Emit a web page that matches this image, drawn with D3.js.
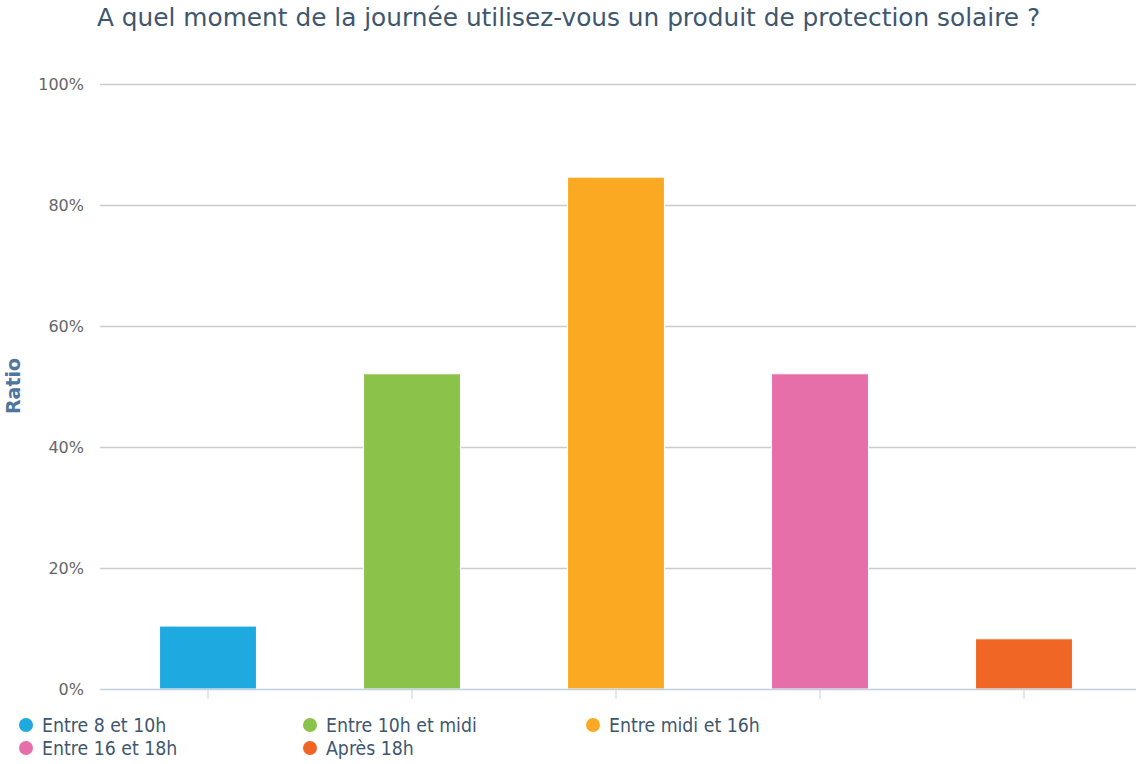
<!DOCTYPE html>
<html>
<head>
<meta charset="utf-8">
<script src="https://cdn.jsdelivr.net/npm/d3@7"></script>
<style>
  html, body { margin: 0; padding: 0; background: #fff; }
  svg { display: block; font-family: "DejaVu Sans", sans-serif; }
</style>
</head>
<body>
<svg id="chart" width="1137" height="764"></svg>
<script>
// Survey answers: share of respondents per time slot
const categories = ["Entre 8 et 10h", "Entre 10h et midi", "Entre midi et 16h", "Entre 16 et 18h", "Après 18h"];
const values = [10.4, 52.1, 84.6, 52.1, 8.3];
const colors = ["#1fa9e1", "#8bc34a", "#fba922", "#e66ea9", "#f06624"];
const yTicks = [0, 20, 40, 60, 80, 100];
const titleText = "A quel moment de la journée utilisez-vous un produit de protection solaire ?";
const yTitle = "Ratio";

const svg = d3.select("#chart");
const plot = { left: 100, right: 1136, top: 84, bottom: 689 };

const x = d3.scaleBand()
  .domain(categories)
  .range([106, 1126])
  .paddingInner(0.525)
  .paddingOuter(0.2625);

const y = d3.scaleLinear().domain([0, 100]).range([plot.bottom, plot.top]);

// Title
svg.append("text")
  .attr("x", 97).attr("y", 26)
  .attr("fill", "#3e576f")
  .style("font-size", "24.8px")
  .text(titleText);

// Horizontal grid lines
svg.append("g").selectAll("line")
  .data(yTicks.filter(d => d > 0))
  .join("line")
  .attr("x1", plot.left).attr("x2", plot.right)
  .attr("y1", d => Math.round(y(d)) + 0.5).attr("y2", d => Math.round(y(d)) + 0.5)
  .attr("stroke", "#cccccc").attr("stroke-width", 1.5);

// Y axis labels
const yAxis = d3.axisLeft(y).tickValues(yTicks).tickFormat(d => d + "%").tickSize(0).tickPadding(0);
svg.append("g")
  .attr("transform", `translate(84,0)`)
  .call(yAxis)
  .call(g => g.select(".domain").remove())
  .call(g => g.selectAll("text")
    .attr("fill", "#666666")
    .attr("dy", "0.36em")
    .style("font-size", "16px")
    .style("font-family", "DejaVu Sans, sans-serif"));

// Y axis title
svg.append("text")
  .attr("transform", `translate(20,386) rotate(-90)`)
  .attr("text-anchor", "middle")
  .attr("fill", "#4d759e")
  .style("font-size", "19px")
  .style("font-weight", "bold")
  .style("font-family", "DejaVu Sans, sans-serif")
  .text(yTitle);

// Bars
svg.append("g").selectAll("rect")
  .data(categories)
  .join("rect")
  .attr("x", d => x(d))
  .attr("y", (d, i) => y(values[i]))
  .attr("width", x.bandwidth())
  .attr("height", (d, i) => y(0) - y(values[i]))
  .attr("fill", (d, i) => colors[i])
  .attr("stroke", "#ffffff").attr("stroke-width", 1);

// X axis line and ticks
const xAxis = d3.axisBottom(x).tickSize(10).tickFormat("");
svg.append("g")
  .attr("transform", `translate(0,${plot.bottom})`)
  .call(xAxis)
  .call(g => g.select(".domain").remove())
  .call(g => g.selectAll(".tick line").attr("stroke", "#c0d0e0"));
svg.append("line")
  .attr("x1", plot.left).attr("x2", plot.right)
  .attr("y1", plot.bottom + 0.5).attr("y2", plot.bottom + 0.5)
  .attr("stroke", "#c0d0e0").attr("stroke-width", 1.5);

// Legend
const legendCols = [26, 310, 593];
const legendRows = [727, 750];
const legend = svg.append("g").selectAll("g")
  .data(categories)
  .join("g")
  .attr("transform", (d, i) => `translate(${legendCols[i % 3]},${legendRows[Math.floor(i / 3)]})`);
legend.append("circle").attr("r", 7).attr("cx", 0).attr("cy", -2).attr("fill", (d, i) => colors[i]);
legend.append("text")
  .attr("x", 16).attr("y", 5)
  .attr("fill", "#3e576f")
  .style("font-size", "19.3px")
  .style("font-family", "'DejaVu Sans Condensed', 'DejaVu Sans', sans-serif")
  .style("font-stretch", "condensed")
  .text(d => d);
</script>
</body>
</html>
